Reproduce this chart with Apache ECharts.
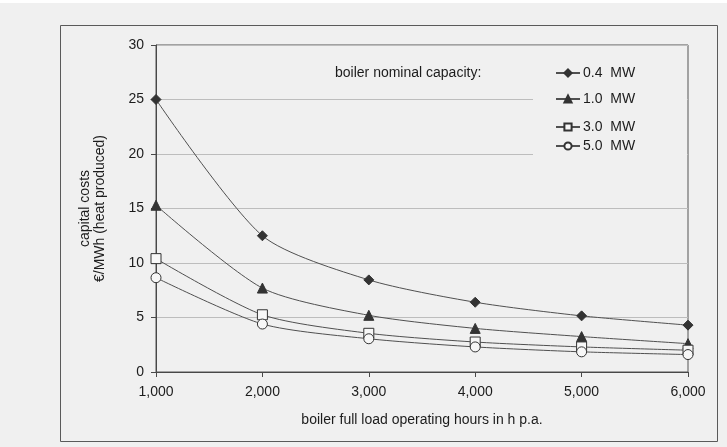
<!DOCTYPE html>
<html>
<head>
<meta charset="utf-8">
<script src="https://cdn.jsdelivr.net/npm/echarts@6/dist/echarts.min.js"></script>
<style>
  html, body { margin: 0; padding: 0; background: #ffffff; }
  #chart { width: 727px; height: 447px; }
</style>
</head>
<body>
<div id="chart"></div>
<script>
// Full load operating hours per year
const hours = [1000, 2000, 3000, 4000, 5000, 6000];

// Capital costs in €/MWh of heat produced, by boiler nominal capacity
const cost04 = [25.0, 12.5, 8.45, 6.4, 5.15, 4.3];
const cost10 = [15.3, 7.7, 5.2, 4.0, 3.25, 2.6];
const cost30 = [10.4, 5.25, 3.55, 2.75, 2.3, 2.0];
const cost50 = [8.65, 4.4, 3.05, 2.3, 1.85, 1.6];

const seriesNames = ['0.4  MW', '1.0  MW', '3.0  MW', '5.0  MW'];
const yTicks = [0, 5, 10, 15, 20, 25, 30];

const paper = '#f0f0f0';
const ink = '#333333';
const lineInk = '#505050';
const textInk = '#1c1c1c';
const font = 'Liberation Sans, Arial, Helvetica, sans-serif';

const chart = echarts.init(document.getElementById('chart'), null, { renderer: 'canvas' });

function pairs(ys) { return hours.map((h, i) => [h, ys[i]]); }

const markers = [
  { symbol: 'diamond', size: 10, fill: ink },
  { symbol: 'triangle', size: 10, fill: ink },
  { symbol: 'rect', size: 10, fill: '#f7f7f7' },
  { symbol: 'circle', size: 10, fill: '#f7f7f7' }
];
const values = [cost04, cost10, cost30, cost50];

const series = seriesNames.map((name, i) => ({
  name: name,
  type: 'line',
  data: pairs(values[i]),
  smooth: 0.25,
  symbol: markers[i].symbol,
  symbolSize: markers[i].size,
  showAllSymbol: true,
  lineStyle: { color: lineInk, width: 1 },
  itemStyle: { color: markers[i].fill, borderColor: ink, borderWidth: 1 },
  z: 3
}));

const legendRows = [74, 100, 128, 147];
const legends = seriesNames.map((name, i) => ({
  data: [name],
  left: 555,
  top: legendRows[i] - 8,
  itemWidth: 24,
  itemHeight: 9,
  padding: 0,
  selectedMode: false,
  textStyle: { fontFamily: font, fontSize: 14, color: textInk, padding: [0, 0, 0, -2] }
}));

chart.setOption({
  backgroundColor: paper,
  animation: false,
  grid: {
    left: 156, right: 39, top: 45, bottom: 75,
    show: true, borderColor: '#555555', borderWidth: 1, backgroundColor: 'transparent'
  },
  legend: legends,
  xAxis: {
    type: 'value',
    min: 1000, max: 6000, interval: 1000,
    name: 'boiler full load operating hours in h p.a.',
    nameLocation: 'middle',
    nameGap: 41,
    nameTextStyle: { fontFamily: font, fontSize: 14, color: textInk },
    axisLine: { lineStyle: { color: '#484848', width: 1 } },
    axisTick: { show: true, inside: false, length: 5, lineStyle: { color: '#484848' } },
    axisLabel: {
      margin: 13, fontFamily: font, fontSize: 14, color: textInk,
      formatter: v => v.toLocaleString('en-US')
    },
    splitLine: { show: false }
  },
  yAxis: {
    type: 'value',
    min: 0, max: 30, interval: 5,
    name: 'capital costs\n€/MWh (heat produced)',
    nameLocation: 'middle',
    nameRotate: 90,
    nameGap: 48,
    nameTextStyle: { fontFamily: font, fontSize: 14, lineHeight: 15, color: textInk, align: 'center' },
    axisLine: { show: true, lineStyle: { color: '#484848', width: 1 } },
    axisTick: { show: true, inside: false, length: 5, lineStyle: { color: '#484848' } },
    axisLabel: {
      margin: 12, fontFamily: font, fontSize: 14, color: textInk,
      formatter: v => (yTicks.includes(v) ? String(v) : '')
    },
    splitLine: { show: true, lineStyle: { color: '#bdbdbd', width: 1 } }
  },
  graphic: [
    // white page margin along the top edge
    {
      type: 'rect', left: 0, top: 0, z: 0,
      shape: { width: 727, height: 3 },
      style: { fill: '#ffffff' }
    },
    // outer frame around the figure
    {
      type: 'rect', left: 58, top: 23, z: 0,
      shape: { width: 657, height: 416 },
      style: { fill: 'none', stroke: '#5a5a5a', lineWidth: 1 }
    },
    // plain panel behind the legend entries
    {
      type: 'rect', left: 533, top: 46, z: 1,
      shape: { width: 154, height: 130 },
      style: { fill: paper }
    },
    {
      type: 'text', left: 335, top: 66, z: 2,
      style: { text: 'boiler nominal capacity:', fontFamily: font, fontSize: 14, fill: textInk }
    }
  ],
  series: series
});
</script>
</body>
</html>
